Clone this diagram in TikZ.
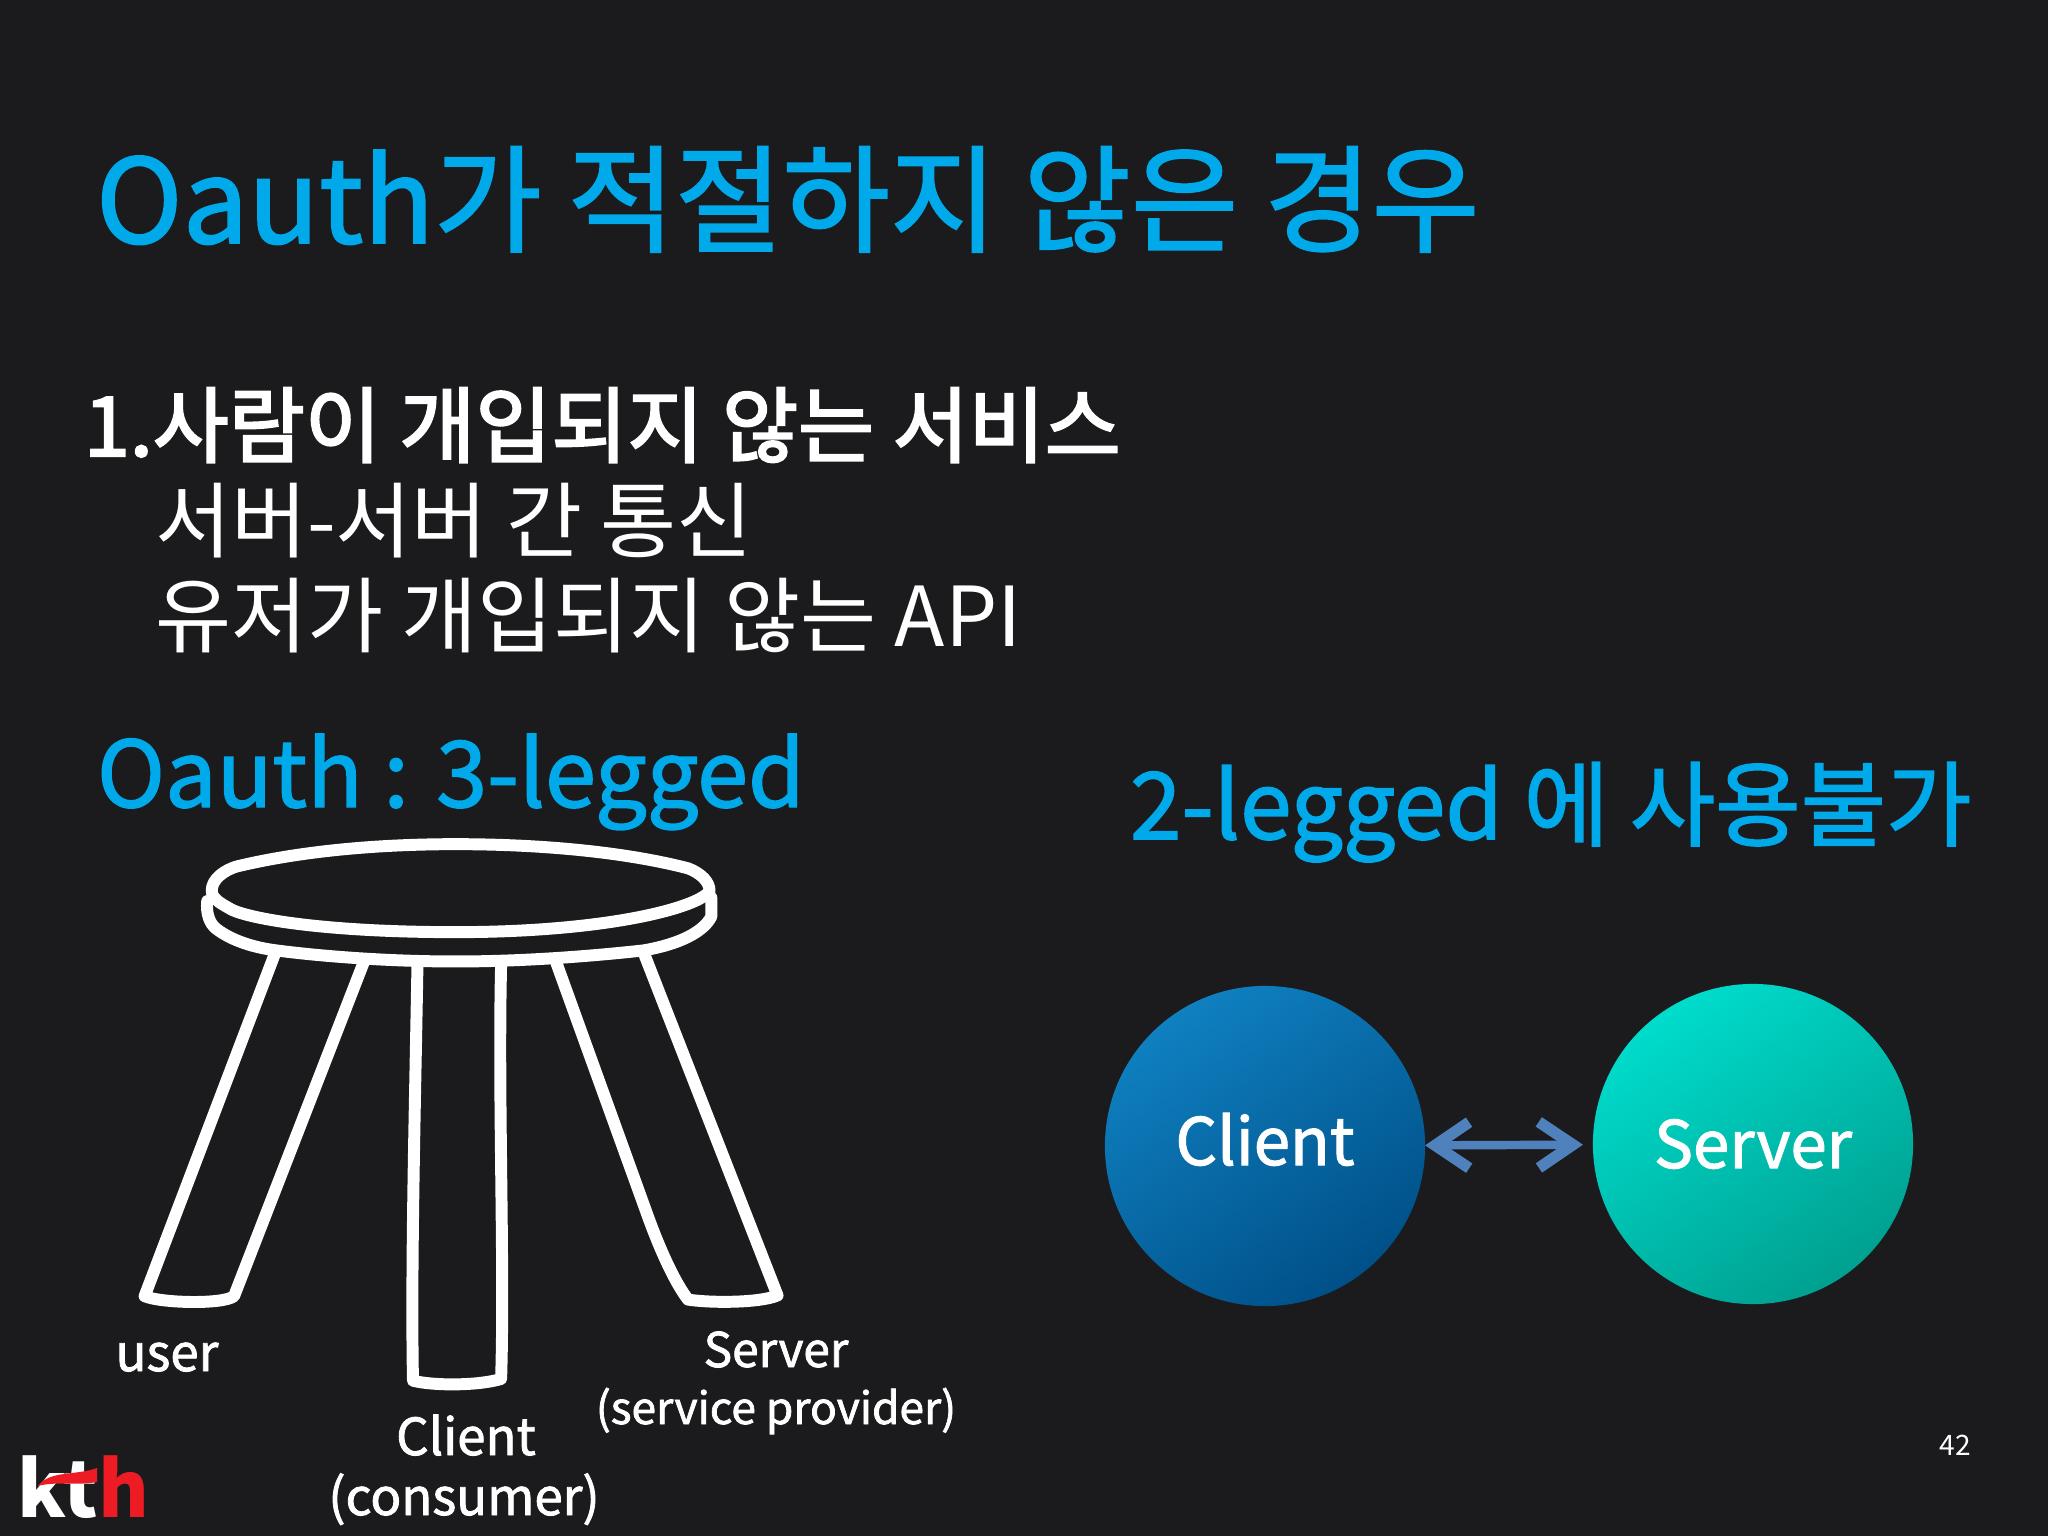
\documentclass[tikz,border=0pt]{standalone}
\usepackage{fontspec}
\setmainfont{Noto Sans CJK KR}
\newfontfamily\midfont[FakeBold=1.6]{Noto Sans CJK KR}
\newfontfamily\semifont[FakeBold=2.6]{Noto Sans CJK KR}
\usetikzlibrary{arrows.meta}
\definecolor{slidebg}{HTML}{1B1B1D}
\definecolor{headblue}{HTML}{00A9EA}
\definecolor{arrowblue}{HTML}{4F81BD}
\definecolor{kthred}{HTML}{ED1C24}
\definecolor{clienttop}{HTML}{0F80C0}
\definecolor{clientbot}{HTML}{005088}
\definecolor{servertop}{HTML}{00DCCC}
\definecolor{serverbot}{HTML}{00A090}
\tikzset{x=.01cm,y=-.01cm,
  every node/.style={inner sep=0pt,outer sep=0pt,text=white},
  head/.style={anchor=base west,text=headblue,font=\midfont\fontsize{33.2}{33.2}\selectfont},
  subhead/.style={anchor=base west,text=headblue,font=\midfont\fontsize{26.4}{26.4}\selectfont},
  bodyline/.style={anchor=base west,font=\fontsize{23.5}{23.5}\selectfont},
  leglabel/.style={anchor=base,font=\midfont\fontsize{14.5}{14.5}\selectfont},
  ball/.style={circle,minimum size=3.2cm,font=\midfont\fontsize{18.6}{18.6}\selectfont},
  stool/.style={draw=white,line width=3.4pt,line join=round,line cap=round}}

\begin{document}
\begin{tikzpicture}
    \useasboundingbox (0,0) rectangle (2048,1536);
    \fill[slidebg] (0,0) rectangle (2048,1536);

    \node[head] (title) at (96,243) {Oauth가 적절하지 않은 경우};
    \node[bodyline,font=\semifont\fontsize{23.5}{23.5}\selectfont] (case) at (84,456) {1.사람이 개입되지 않는 서비스};
    \node[bodyline] (line1) at (155,551) {서버-서버 간 통신};
    \node[bodyline] (line2) at (155,646) {유저가 개입되지 않는 API};
    \node[subhead,font=\midfont\fontsize{26.1}{26.1}\selectfont] (three) at (97,807) {Oauth : 3-legged};
    \node[subhead] (two) at (1130,839) {2-legged 에 사용불가};

    \begin{scope}[shift={(120,820)},x=.004464cm,y=-.003448cm]
        \draw[stool] (205,205) .. controls (205,170) and (235,145) .. (260,135)
            .. controls (420,85) and (600,70) .. (750,70)
            .. controls (930,70) and (1120,90) .. (1270,140)
            .. controls (1300,155) and (1318,180) .. (1318,205)
            .. controls (1300,250) and (1100,325) .. (750,325)
            .. controls (450,325) and (290,285) .. (250,260)
            .. controls (230,245) and (205,230) .. cycle;
        \draw[stool] (195,235) .. controls (192,270) and (200,300) .. (215,315)
            .. controls (250,350) and (300,370) .. (350,378)
            .. controls (450,395) and (600,410) .. (750,410)
            .. controls (900,410) and (1050,395) .. (1170,378)
            .. controls (1230,365) and (1300,335) .. (1322,280) -- (1322,225);
        \draw[stool] (347,385) -- (55,1380)
            .. controls (90,1400) and (230,1405) .. (255,1380) -- (545,412);
        \draw[stool] (665,420) .. controls (660,800) and (650,1300) .. (655,1625)
            .. controls (700,1640) and (800,1640) .. (852,1620)
            .. controls (860,1300) and (845,800) .. (852,420);
        \draw[stool] (975,412) -- (1175,1130) .. controls (1205,1240) and (1240,1340) .. (1270,1390)
            .. controls (1320,1400) and (1430,1400) .. (1470,1378) -- (1170,382);
    \end{scope}

    \node[leglabel] (user) at (167,1371) {user};
    \node[leglabel] (consumer1) at (466,1455) {Client};
    \node[leglabel] (consumer2) at (464,1515) {(consumer)};
    \node[leglabel,font=\midfont\fontsize{13.6}{13.6}\selectfont] (provider1) at (776,1367) {Server};
    \node[leglabel,font=\midfont\fontsize{12.6}{12.6}\selectfont] (provider2) at (776,1424) {(service provider)};

    \node[ball,top color=clienttop,bottom color=clientbot,shading angle=35] (client) at (1265,1146) {\raisebox{4pt}{Client}};
    \node[ball,top color=servertop,bottom color=serverbot,shading angle=35] (server) at (1753,1144) {\raisebox{-1.5pt}{Server}};
    \draw[{Straight Barb[length=3.4mm,width=4.6mm,line width=3.2pt]}-{Straight Barb[length=3.4mm,width=4.6mm,line width=3.2pt]},draw=arrowblue,line width=2.4pt,shorten >=1mm] (client) -- (server);

    \node[anchor=base,font=\fontsize{8}{8}\selectfont] (page) at (1955,1455) {42};

    \node[anchor=base west,font=\fontsize{22}{22}\bfseries\selectfont] (logo) at (18,1517) {kt\textcolor{kthred}{h}};
    \fill[kthred] (38,1486) .. controls (50,1470) and (75,1476) .. (97,1468) -- (97,1482) .. controls (75,1486) and (55,1481) .. cycle;
\end{tikzpicture}
\end{document}
